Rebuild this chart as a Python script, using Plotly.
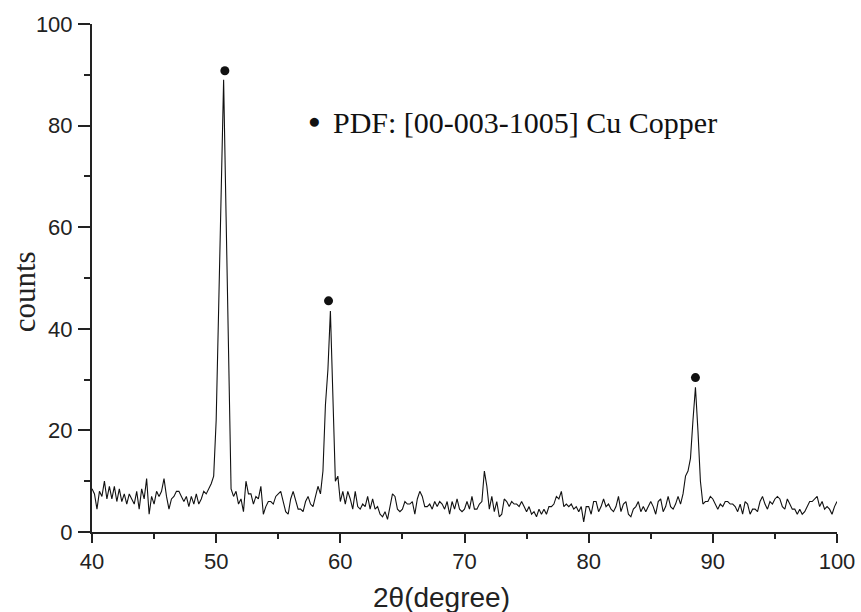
import numpy as np
import plotly.graph_objects as go

# 2-theta grid: 40.0 .. 100.0 in 0.2 deg steps, split in decades
counts_40s = [8.5, 7.5, 4.5, 8.0, 7.0, 10.0, 6.5, 9.0, 6.5, 9.0,
              6.0, 8.5, 6.0, 7.5, 5.5, 7.5, 6.5, 5.5, 8.0, 4.5,
              8.5, 6.5, 10.5, 3.5, 7.0, 5.5, 8.0, 7.0, 8.0, 10.5,
              7.0, 4.5, 6.5, 7.0, 8.0, 8.0, 7.0, 6.0, 7.0, 5.0,
              7.0, 5.5, 7.5, 5.5, 6.5, 8.0, 7.5, 8.5, 9.5, 11.0]
counts_50s = [22.0, 44.0, 67.0, 89.0, 62.0, 36.0, 8.5, 7.0, 8.0, 5.5,
              6.5, 4.0, 10.0, 7.5, 7.5, 5.5, 7.0, 6.5, 9.0, 3.5,
              5.0, 6.0, 6.0, 5.5, 7.0, 7.5, 8.0, 6.0, 4.0, 3.5,
              6.5, 8.0, 6.0, 4.5, 4.5, 4.0, 6.0, 7.0, 5.5, 5.0,
              7.0, 9.0, 7.5, 12.0, 25.0, 32.0, 43.5, 26.0, 10.0, 11.0]
counts_60s = [6.0, 8.0, 5.5, 8.0, 6.5, 4.5, 8.0, 5.0, 4.5, 5.5,
              5.0, 7.0, 4.5, 6.5, 4.5, 5.0, 3.5, 3.0, 4.0, 2.5,
              5.0, 7.5, 7.0, 4.5, 4.0, 4.5, 6.0, 5.5, 5.5, 6.0,
              3.5, 6.5, 8.0, 7.0, 5.0, 5.0, 5.5, 4.5, 6.0, 5.0,
              6.0, 5.5, 4.5, 6.0, 3.5, 6.0, 4.5, 6.5, 4.5, 4.0]
counts_70s = [4.5, 6.0, 4.5, 7.0, 4.5, 4.5, 5.5, 6.0, 12.0, 9.0,
              4.5, 7.0, 4.0, 6.0, 3.0, 3.5, 6.5, 6.0, 5.0, 6.0,
              5.5, 5.5, 5.0, 6.0, 5.0, 4.0, 5.0, 3.5, 4.0, 3.0,
              4.5, 3.5, 4.5, 3.5, 5.0, 5.0, 5.5, 7.0, 6.5, 8.0,
              5.0, 5.5, 5.0, 5.5, 4.5, 5.0, 4.0, 5.0, 2.0, 5.0]
counts_80s = [5.0, 3.5, 6.0, 6.0, 4.0, 5.0, 6.5, 5.0, 5.5, 4.5,
              4.0, 5.0, 7.0, 4.0, 5.5, 6.0, 3.5, 3.0, 4.5, 5.0,
              6.0, 4.0, 5.0, 4.0, 5.0, 6.0, 5.0, 3.5, 6.0, 6.5,
              4.0, 5.0, 7.0, 5.0, 4.5, 5.5, 7.0, 5.5, 7.5, 11.0,
              12.0, 14.5, 22.0, 28.5, 20.0, 10.0, 5.5, 6.0, 6.0, 7.0]
counts_90s = [6.5, 5.5, 4.5, 5.5, 5.0, 6.0, 6.0, 5.5, 5.5, 5.0,
              4.0, 5.5, 3.5, 6.0, 5.5, 3.5, 4.5, 4.5, 4.0, 6.0,
              7.0, 5.5, 4.5, 6.0, 5.5, 6.5, 7.0, 6.5, 5.0, 4.5,
              6.5, 5.5, 4.5, 4.5, 3.5, 4.5, 3.5, 4.0, 5.0, 6.0,
              6.0, 6.5, 7.0, 5.0, 6.0, 4.5, 5.0, 4.5, 3.5, 5.0,
              6.0]
segment_starts = [40.0, 50.0, 60.0, 70.0, 80.0, 90.0]

# Cu reference peaks (marker dots above the peaks)
peak_positions = [50.7, 59.05, 88.6]
peak_marker_heights = [90.8, 45.5, 30.4]

x_ticks = [40, 50, 60, 70, 80, 90, 100]
y_ticks = [0, 20, 40, 60, 80, 100]
legend_symbol = "●"
legend_label = "PDF: [00-003-1005] Cu Copper"
x_title = "2θ(degree)"
y_title = "counts"

segments = [counts_40s, counts_50s, counts_60s, counts_70s, counts_80s, counts_90s]
two_theta, counts = [], []
for start, seg in zip(segment_starts, segments):
    two_theta += [round(start + 0.2 * i, 2) for i in range(len(seg))]
    counts += seg

fig = go.Figure()
fig.add_trace(go.Scatter(x=two_theta, y=counts, mode="lines",
                         line=dict(color="#111111", width=1.1), showlegend=False,
                         hoverinfo="skip"))
fig.add_trace(go.Scatter(x=peak_positions, y=peak_marker_heights, mode="markers",
                         marker=dict(color="#111", size=9, symbol="circle"),
                         showlegend=False, cliponaxis=False))

tick_font = dict(family="Liberation Sans, Arial, sans-serif", size=22, color="#222")
axis_common = dict(showgrid=False, zeroline=False, showline=True, linecolor="#222",
                   linewidth=2, ticks="outside", tickcolor="#222", tickwidth=2,
                   tickfont=tick_font, mirror=False, automargin=False,
                   ticklabeloverflow="allow")

fig.update_xaxes(range=[40, 100], tickvals=x_ticks, ticklen=9,
                 minor=dict(dtick=5, ticklen=5, tickwidth=2, tickcolor="#222", ticks="outside"),
                 ticklabelstandoff=0, **axis_common)
fig.update_yaxes(range=[0, 100], tickvals=y_ticks, ticklen=12,
                 minor=dict(dtick=10, ticklen=6, tickwidth=2, tickcolor="#222", ticks="outside"),
                 ticklabelstandoff=1, **axis_common)

serif = "Liberation Serif, Times New Roman, serif"
fig.add_annotation(text=legend_symbol, xref="paper", yref="paper", x=0.298, y=0.81,
                   xanchor="center", yanchor="middle", showarrow=False,
                   font=dict(family=serif, size=21, color="#111"))
fig.add_annotation(text=legend_label, xref="paper", yref="paper", x=0.3206, y=0.807,
                   xanchor="left", yanchor="middle", showarrow=False,
                   font=dict(family=serif, size=30, color="#111"))
fig.add_annotation(text=x_title, xref="paper", yref="paper", x=0.469, y=-0.128,
                   xanchor="center", yanchor="middle", showarrow=False,
                   font=dict(family="Liberation Sans, Arial, sans-serif", size=28, color="#222"))
fig.add_annotation(text=y_title, xref="paper", yref="paper", x=-0.0905, y=0.473,
                   xanchor="center", yanchor="middle", showarrow=False, textangle=-90,
                   font=dict(family=serif, size=31, color="#222"))

fig.update_layout(width=861, height=612, margin=dict(l=92, r=23.5, t=24, b=80),
                  paper_bgcolor="white", plot_bgcolor="white", showlegend=False)

fig.write_html("out.html")
